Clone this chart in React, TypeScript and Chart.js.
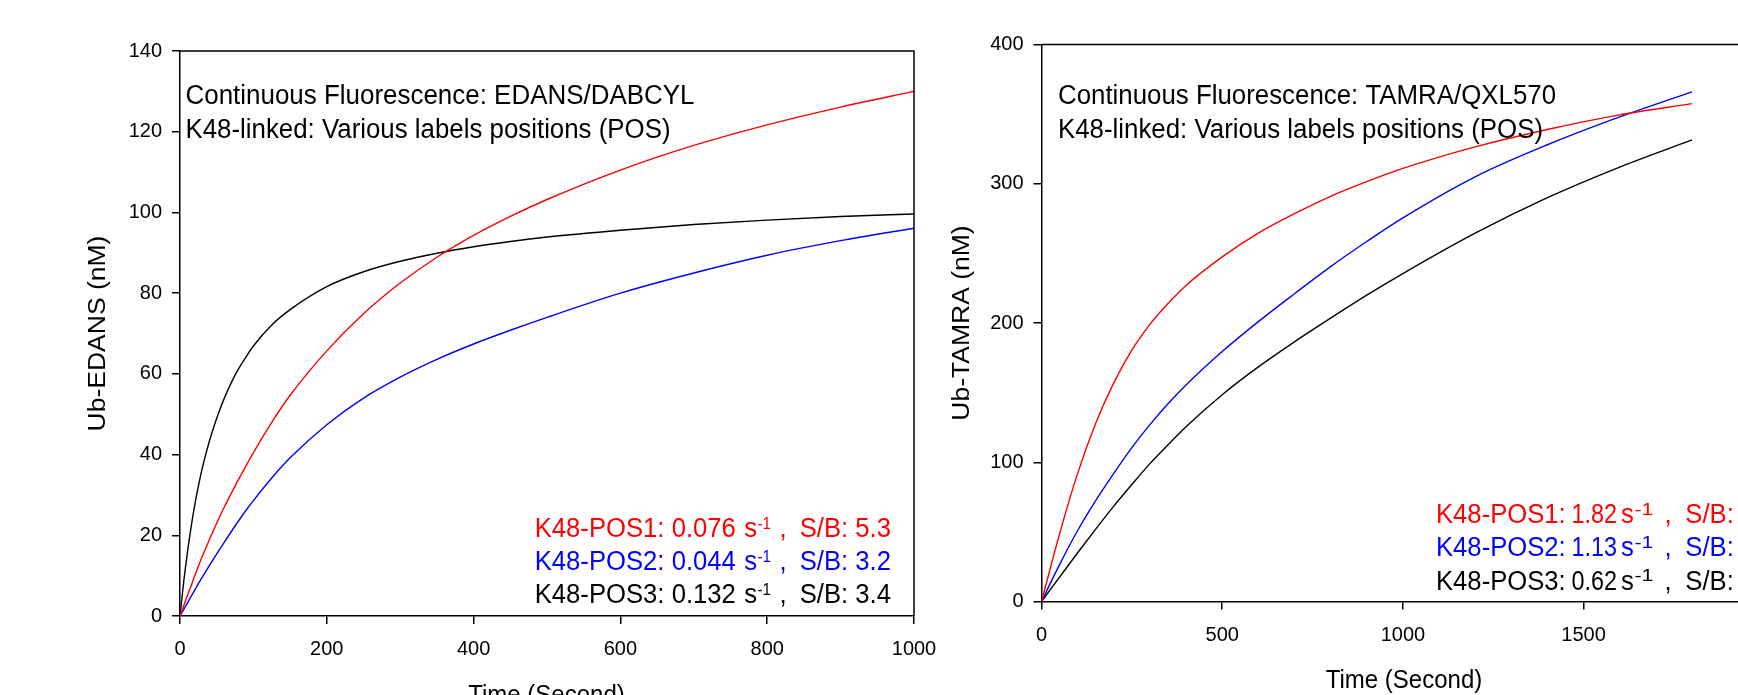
import React, { useEffect, useRef } from "react";
import { Chart, registerables } from "chart.js";

Chart.register(...registerables);

const FONT = "'Liberation Sans', Arial, Helvetica, sans-serif";

// ---------------- Data: left panel (EDANS/DABCYL) ----------------
const edansTime = [0, 5, 10, 15, 20, 25, 30, 40, 50, 60, 75, 90, 100, 125, 150, 200, 250, 300, 350, 400, 450, 500, 600, 700, 800, 900, 1000];
const edansPos1 = [0, 2.5, 5, 7.4, 9.9, 12.3, 14.6, 18.9, 23, 26.9, 32.2, 37.2, 40.5, 48, 54.7, 65.7, 74.9, 82.5, 88.9, 94.3, 99, 103.2, 110.5, 116.6, 121.7, 126.1, 130];
const edansPos2 = [0, 1.6, 3.2, 4.8, 6.4, 8, 9.5, 12.5, 15.4, 18.2, 22.3, 26.2, 28.6, 34.2, 39.2, 47.4, 54, 59.2, 63.6, 67.4, 70.8, 74, 80, 85, 89.4, 93, 96.1];
const edansPos3 = [0, 8.4, 15.6, 21.9, 27.4, 32.1, 36.4, 43.3, 49, 53.8, 59.7, 64.2, 66.9, 72.1, 75.9, 81.6, 85.3, 87.9, 89.9, 91.5, 92.8, 93.9, 95.6, 97, 98.1, 99, 99.6];
const edansXTicks = [0, 200, 400, 600, 800, 1000];
const edansYTicks = [0, 20, 40, 60, 80, 100, 120, 140];

// ---------------- Data: right panel (TAMRA/QXL570) ----------------
const tamraTime = [0, 50, 100, 150, 200, 250, 300, 350, 400, 500, 600, 700, 800, 900, 1000, 1200, 1400, 1600, 1800];
const tamraPos1 = [0, 48.5, 92, 128, 157, 180.5, 199, 214, 227, 247.5, 264.5, 278.5, 291, 301.5, 311, 326.5, 339, 349.5, 357.5];
const tamraPos2 = [0, 26.5, 51, 72.5, 92, 110.5, 127, 142, 155.5, 179.5, 201, 221, 240.5, 258.5, 275.5, 305, 328, 348, 366];
const tamraPos3 = [0, 17.5, 35, 52, 68.5, 84, 99, 112.5, 125.5, 148.5, 168.5, 186.5, 203.5, 220, 235.5, 264.5, 290, 312, 331.5];
const tamraXTicks = [0, 500, 1000, 1500, 2000];
const tamraYTicks = [0, 100, 200, 300, 400];

// ---------------- Text ----------------
const seriesNames = ["K48-POS1:", "K48-POS2:", "K48-POS3:"];
const edansRates = ["0.076", "0.044", "0.132"];
const edansSB = ["S/B: 5.3", "S/B: 3.2", "S/B: 3.4"];
const tamraRates = ["1.82", "1.13", "0.62"];
const tamraSB = ["S/B:", "S/B:", "S/B:"];
const rateUnit = "s";
const rateExp = "-1";
const edansHeader = ["Continuous Fluorescence: EDANS/DABCYL", "K48-linked: Various labels positions (POS)"];
const tamraHeader = ["Continuous Fluorescence: TAMRA/QXL570", "K48-linked: Various labels positions (POS)"];
const xTitle = "Time (Second)";
const edansYTitle = "Ub-EDANS (nM)";
const tamraYTitle = "Ub-TAMRA (nM)";

const COLORS = ["#ff0000", "#0000ff", "#000000"];

interface Txt {
  text: string;
  x: number;
  y: number;
  size: number;
  color: string;
  sx?: number;
  width?: number;
  rot?: boolean;
  align?: CanvasTextAlign;
}

interface Panel {
  offsetX: number;
  canvasW: number;
  canvasH: number;
  left: number;
  right: number;
  top: number;
  bottom: number;
  xMax: number;
  yMax: number;
  time: number[];
  series: number[][];
  xTicks: number[];
  yTicks: number[];
  texts: Txt[];
}

function annotationTexts(
  rates: string[],
  sbs: string[],
  baselines: number[],
  xs: { name: number; rate: number; rateW?: number; unit: number; exp: number; expW?: number; comma: number; sb: number }
): Txt[] {
  const out: Txt[] = [];
  seriesNames.forEach((name, i) => {
    const y = baselines[i];
    const color = COLORS[i];
    out.push({ text: name, x: xs.name, y, size: 27, color, sx: 0.95 });
    out.push({ text: rates[i], x: xs.rate, y, size: 27, color, sx: 0.95, width: xs.rateW });
    out.push({ text: rateUnit, x: xs.unit, y, size: 27, color, sx: 0.95 });
    out.push({ text: rateExp, x: xs.exp, y: y - 8.5, size: 16, color, sx: 0.95, width: xs.expW });
    out.push({ text: ",", x: xs.comma, y, size: 27, color, sx: 0.95 });
    out.push({ text: sbs[i], x: xs.sb, y, size: 27, color, sx: 0.95 });
  });
  return out;
}

const LEFT: Panel = {
  offsetX: 0,
  canvasW: 960,
  canvasH: 695,
  left: 180,
  right: 914,
  top: 51,
  bottom: 616,
  xMax: 1000,
  yMax: 140,
  time: edansTime,
  series: [edansPos1, edansPos2, edansPos3],
  xTicks: edansXTicks,
  yTicks: edansYTicks,
  texts: [
    { text: edansHeader[0], x: 185.5, y: 104, size: 27, color: "#000", width: 509 },
    { text: edansHeader[1], x: 185.5, y: 138, size: 27, color: "#000", width: 485 },
    ...annotationTexts(edansRates, edansSB, [537, 570, 603], {
      name: 534.7, rate: 671.7, unit: 744.3, exp: 757.5, comma: 779.5, sb: 799.7,
    }),
    { text: edansYTitle, x: 105, y: 333.5, size: 26.5, color: "#000", sx: 0.93, rot: true, align: "center" },
    { text: xTitle, x: 546.5, y: 702.5, size: 25, color: "#000", sx: 0.96, align: "center" },
  ],
};

const RIGHT: Panel = {
  offsetX: 900,
  canvasW: 900,
  canvasH: 695,
  left: 141.5,
  right: 866,
  top: 44.5,
  bottom: 601.5,
  xMax: 2000,
  yMax: 400,
  time: tamraTime,
  series: [tamraPos1, tamraPos2, tamraPos3],
  xTicks: tamraXTicks,
  yTicks: tamraYTicks,
  texts: [
    { text: tamraHeader[0], x: 1058, y: 103.5, size: 27, color: "#000", width: 498 },
    { text: tamraHeader[1], x: 1058, y: 137.5, size: 27, color: "#000", width: 485 },
    ...annotationTexts(tamraRates, tamraSB, [523, 556, 589.5], {
      name: 1436, rate: 1571.5, rateW: 45.5, unit: 1621, exp: 1634.5, expW: 19, comma: 1664.5, sb: 1685.3,
    }),
    { text: tamraYTitle, x: 969, y: 323, size: 26.5, color: "#000", sx: 0.93, rot: true, align: "center" },
    { text: xTitle, x: 1404, y: 688, size: 25, color: "#000", sx: 0.96, align: "center" },
  ],
};

function overlayPlugin(p: Panel) {
  return {
    id: "overlay",
    afterDraw(chart: any) {
      const ctx: CanvasRenderingContext2D = chart.ctx;
      const a = chart.chartArea;
      ctx.save();
      ctx.strokeStyle = "#000";
      ctx.lineWidth = 1.5;
      ctx.beginPath();
      ctx.moveTo(a.left, a.top);
      ctx.lineTo(a.right, a.top);
      ctx.lineTo(a.right, a.bottom);
      ctx.stroke();
      for (const t of p.texts) {
        ctx.font = `${t.size}px ${FONT}`;
        ctx.fillStyle = t.color;
        ctx.textBaseline = "alphabetic";
        ctx.textAlign = t.align ?? "left";
        const w = ctx.measureText(t.text).width;
        let sx = t.sx ?? 1;
        if (t.width) sx = t.width / w;
        ctx.save();
        ctx.translate(t.x - p.offsetX, t.y);
        ctx.scale(sx, 1);
        if (t.rot) ctx.rotate(-Math.PI / 2);
        ctx.fillText(t.text, 0, 0);
        ctx.restore();
      }
      ctx.restore();
    },
  };
}

function buildConfig(p: Panel): any {
  const gridOpts = {
    display: true,
    drawOnChartArea: false,
    drawTicks: true,
    tickLength: 8,
    color: "#000",
    lineWidth: 1.5,
  };
  const borderOpts = { display: true, color: "#000", width: 1.5 };
  return {
    type: "line",
    data: {
      datasets: p.series.map((ys, i) => ({
        data: p.time.map((t, j) => ({ x: t, y: ys[j] })),
        borderColor: COLORS[i],
        backgroundColor: COLORS[i],
        borderWidth: 1.4,
        pointRadius: 0,
        fill: false,
        cubicInterpolationMode: "monotone",
      })),
    },
    options: {
      responsive: false,
      maintainAspectRatio: false,
      animation: false,
      events: [],
      layout: { padding: { left: 0, top: p.top, right: p.canvasW - p.right, bottom: 0 } },
      plugins: { legend: { display: false }, tooltip: { enabled: false }, title: { display: false } },
      scales: {
        x: {
          type: "linear",
          min: 0,
          max: p.xMax,
          afterFit: (s: any) => {
            s.height = p.canvasH - p.bottom;
          },
          afterBuildTicks: (s: any) => {
            s.ticks = p.xTicks.map((v) => ({ value: v }));
          },
          ticks: {
            autoSkip: false,
            maxRotation: 0,
            minRotation: 0,
            color: "#000",
            padding: 13.5,
            font: { family: FONT, size: 20 },
            callback: (v: any) => String(v),
          },
          grid: gridOpts,
          border: borderOpts,
        },
        y: {
          type: "linear",
          min: 0,
          max: p.yMax,
          afterFit: (s: any) => {
            s.width = p.left;
          },
          afterBuildTicks: (s: any) => {
            s.ticks = p.yTicks.map((v) => ({ value: v }));
          },
          ticks: {
            autoSkip: false,
            color: "#000",
            padding: 10,
            font: { family: FONT, size: 20 },
            callback: (v: any) => String(v),
          },
          grid: gridOpts,
          border: borderOpts,
        },
      },
    },
    plugins: [overlayPlugin(p)],
  };
}

export default function App() {
  const leftRef = useRef<HTMLCanvasElement>(null);
  const rightRef = useRef<HTMLCanvasElement>(null);

  useEffect(() => {
    const c1 = new Chart(leftRef.current as HTMLCanvasElement, buildConfig(LEFT));
    const c2 = new Chart(rightRef.current as HTMLCanvasElement, buildConfig(RIGHT));
    return () => {
      c1.destroy();
      c2.destroy();
    };
  }, []);

  return (
    <div
      style={{
        position: "fixed",
        left: 0,
        top: 0,
        width: 1738,
        height: 695,
        overflow: "hidden",
        background: "#ffffff",
      }}
    >
      <canvas
        ref={leftRef}
        width={LEFT.canvasW}
        height={LEFT.canvasH}
        style={{ position: "absolute", left: LEFT.offsetX, top: 0, width: LEFT.canvasW, height: LEFT.canvasH }}
      />
      <canvas
        ref={rightRef}
        width={RIGHT.canvasW}
        height={RIGHT.canvasH}
        style={{ position: "absolute", left: RIGHT.offsetX, top: 0, width: RIGHT.canvasW, height: RIGHT.canvasH }}
      />
    </div>
  );
}
